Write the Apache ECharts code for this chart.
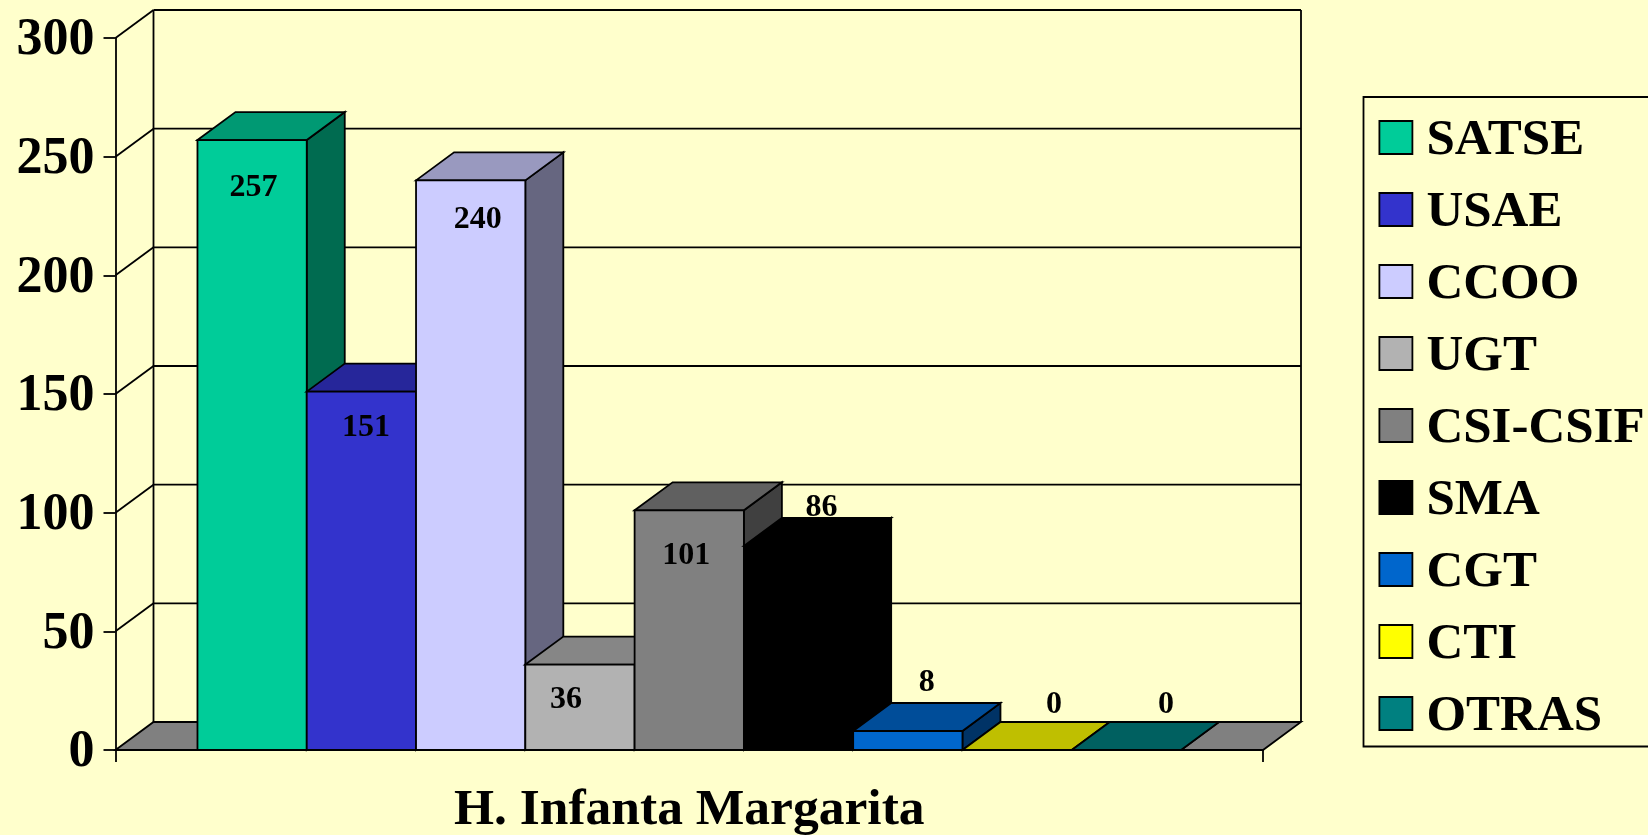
<!DOCTYPE html>
<html>
<head>
<meta charset="utf-8">
<title>H. Infanta Margarita</title>
<style>
  html, body { margin: 0; padding: 0; background: #FFFFCC; }
  #chart { width: 1648px; height: 835px; overflow: hidden; }
</style>
<script src="https://cdn.jsdelivr.net/npm/echarts@6/dist/echarts.min.js"></script>
</head>
<body>
<div id="chart"></div>
<script>
const groupName = 'H. Infanta Margarita'
const unions = ['SATSE', 'USAE', 'CCOO', 'UGT', 'CSI-CSIF', 'SMA', 'CGT', 'CTI', 'OTRAS']
const votes = [257, 151, 240, 36, 101, 86, 8, 0, 0]
const yTicks = [0, 50, 100, 150, 200, 250, 300]

// colores: frente, tapa, lateral
const frontColors = ['#00CC99', '#3333CC', '#CCCCFF', '#B2B2B2', '#808080', '#000000', '#0066CC', '#FFFF00', '#008080']
const topColors = ['#009973', '#26269A', '#9999BF', '#868686', '#606060', '#000000', '#004D99', '#BFBF00', '#006060']
const sideColors = ['#006B50', '#1A1A6B', '#666680', '#5A5A5A', '#404040', '#000000', '#003366', '#808000', '#004040']

// desplazamiento de cada etiqueta respecto al centro de la barra y su tope
const labelDx = [1.5, 4.5, 7, -14, -3, 23, 19, 37, 39.5]
const labelDy = [48, 36, 39, 35, 45, -38, -48, -45, -45]

const depthX = 38
const depthY = 28
const slots = 10.5   // 9 barras + huecos a los lados
const lineW = 1.8
const edge = { stroke: '#000', lineWidth: lineW }

function poly (points, fill) {
  return { type: 'polygon', shape: { points }, style: Object.assign({ fill }, edge) }
}
function line (x1, y1, x2, y2) {
  return { type: 'line', shape: { x1, y1, x2, y2 }, style: edge }
}

function renderWall (params, api) {
  const grid = params.coordSys
  const tick = api.value(0)
  const y = api.coord([0, tick])[1]
  const left = grid.x
  const right = grid.x + grid.width
  const children = []
  if (tick === 0) {
    children.push(poly([
      [left, y], [left + depthX, y - depthY], [right + depthX, y - depthY], [right, y]
    ], '#808080'))
  } else {
    children.push(line(left, y, left + depthX, y - depthY))
    children.push(line(left + depthX, y - depthY, right + depthX, y - depthY))
  }
  if (tick === yTicks[yTicks.length - 1]) {
    const y0 = api.coord([0, 0])[1]
    children.push(line(left + depthX, y - depthY, left + depthX, y0 - depthY))
    children.push(line(right + depthX, y - depthY, right + depthX, y0 - depthY))
  }
  return { type: 'group', children }
}

function renderBar (i) {
  return function (params, api) {
    const top = api.coord([0, api.value(1)])
    const y0 = api.coord([0, 0])[1]
    const w = api.size([1, 0])[0] / slots
    const x0 = top[0] + (i - 4.5) * w
    const x1 = x0 + w
    const y1 = top[1]
    return {
      type: 'group',
      children: [
        poly([[x1, y1], [x1 + depthX, y1 - depthY], [x1 + depthX, y0 - depthY], [x1, y0]], sideColors[i]),
        poly([[x0, y1], [x0 + depthX, y1 - depthY], [x1 + depthX, y1 - depthY], [x1, y1]], topColors[i]),
        poly([[x0, y1], [x1, y1], [x1, y0], [x0, y0]], frontColors[i]),
        {
          type: 'text',
          style: {
            text: String(api.value(1)),
            x: x0 + w / 2 + labelDx[i],
            y: y1 + labelDy[i],
            fill: '#000',
            font: 'bold 32px "Liberation Serif"',
            align: 'center',
            verticalAlign: 'middle'
          }
        }
      ]
    }
  }
}

const chart = echarts.init(document.getElementById('chart'))
const fontFamily = '"Liberation Serif", "Times New Roman", serif'

chart.setOption({
  animation: false,
  backgroundColor: '#FFFFCC',
  grid: { left: 115.5, right: 385, top: 38, bottom: 85, outerBoundsMode: 'none' },
  xAxis: {
    type: 'category',
    data: [groupName],
    axisLine: { lineStyle: { color: '#000', width: lineW } },
    axisTick: { show: true, length: 12, lineStyle: { color: '#000', width: lineW } },
    axisLabel: { color: '#000', fontFamily, fontWeight: 'bold', fontSize: 51.5, margin: 35 }
  },
  yAxis: {
    type: 'value',
    min: 0,
    max: 300,
    interval: 50,
    splitLine: { show: false },
    axisLine: { show: true, lineStyle: { color: '#000', width: lineW } },
    axisTick: { show: true, length: 12, lineStyle: { color: '#000', width: lineW } },
    axisLabel: {
      margin: 21,
      formatter: '{n|{value}}',
      rich: { n: { color: '#000', fontFamily, fontWeight: 'bold', fontSize: 52, padding: [6, 0, 0, 0] } }
    }
  },
  legend: {
    orient: 'vertical',
    left: 1363.5,
    top: 97,
    data: unions,
    selectedMode: false,
    icon: 'rect',
    itemWidth: 33,
    itemHeight: 33,
    itemGap: 21,
    padding: [18, 40, 4.5, 15],
    borderColor: '#000',
    borderWidth: lineW,
    backgroundColor: '#FFFFCC',
    itemStyle: { borderColor: '#000', borderWidth: lineW },
    formatter: '{n|{name}}',
    textStyle: {
      padding: [0, 0, 0, 9],
      rich: { n: { color: '#000', fontFamily, fontWeight: 'bold', fontSize: 51, padding: [6, 0, 0, 0] } }
    }
  },
  series: [
    {
      type: 'custom',
      name: 'pared',
      silent: true,
      renderItem: renderWall,
      encode: { y: 0 },
      data: yTicks.map(t => [t])
    }
  ].concat(unions.map((name, i) => ({
    type: 'custom',
    name,
    itemStyle: { color: frontColors[i] },
    renderItem: renderBar(i),
    encode: { x: 0, y: 1 },
    data: [[groupName, votes[i]]]
  })))
})
</script>
</body>
</html>
